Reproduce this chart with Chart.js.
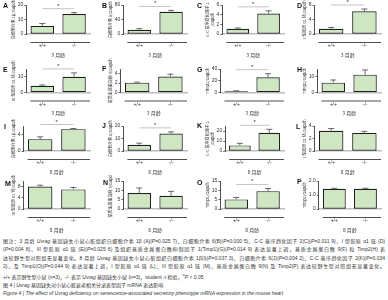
<!DOCTYPE html>
<html>
<head>
<meta charset="utf-8">
<script src="https://cdn.jsdelivr.net/npm/chart.js@4.4.1/dist/chart.umd.min.js"></script>
<style>
  body { margin: 0; background: #fff; }
  #page { position: relative; width: 388px; height: 300px; overflow: hidden; font-family: 'Liberation Sans', 'Noto Sans CJK SC', sans-serif; }
  canvas { position: absolute; }
  .letter { position: absolute; font: bold 7px 'Liberation Sans', sans-serif; color: #111; }
  #caption { position: absolute; left: 3px; top: 237px; width: 382px; font-family: 'Liberation Sans', 'Noto Sans CJK SC', sans-serif; font-size: 5px; color: #333; }
  #caption div { white-space: nowrap; height: 8.4px; line-height: 8.4px; text-align: justify; text-align-last: justify; }
  #caption div.short { text-align-last: left; }
  #caption div.gap { margin-top: 2px; }
</style>
</head>
<body>
<div id="page">
  <div id="caption">
    <div>图注：3 月龄 <i>Uvrag</i> 基因缺失小鼠心脏组织白细胞介素 1β (A)(<i>P</i>=0.025 7)、白细胞介素 6(B)(<i>P</i>=0.000 5)、C-C 基序趋化因子 2(C)(<i>P</i>=0.011 9)、I 型胶原 α1 链 (D)</div>
    <div>(<i>P</i>=0.004 8)、III 型胶原 α1 链 (E)(<i>P</i>=0.025 6) 及组织基质金属蛋白酶抑制因子 1(Timp1)(G)(<i>P</i>=0.014 9) 表达显著上调，基质金属蛋白酶 9(F) 和 Timp2(H) 表</div>
    <div>达较野生型对照组无显著变化。8 月龄 <i>Uvrag</i> 基因缺失小鼠心脏组织白细胞介素 1β(I)(<i>P</i>=0.037 3)、白细胞介素 6(J)(<i>P</i>=0.004 2)、C-C 基序趋化因子 2(K)(<i>P</i>=0.034</div>
    <div>2)、及 Timp1(O)(<i>P</i>=0.044 9) 表达显著上调，I 型胶原 α1 链 (L)、III 型胶原 α1 链 (M)、基质金属蛋白酶 9(N) 及 Timp2(P) 表达较野生型对照组无显著变化。</div>
    <div class="short">+/+ 表示野生型小鼠 (n=3)，-/- 表示 <i>Uvrag</i> 基因缺失小鼠 (n=3)，student -<i>t</i> 检验，<sup style="font-size:4px">a</sup><i>P</i> &lt; 0.05</div>
    <div class="short gap">图 4 | <i>Uvrag</i> 基因缺失对小鼠心脏衰老相关分泌表型因子 mRNA 表达影响</div>
    <div class="short"><i>Figure 4 | The effect of Uvrag deficiency on senescence-associated secretory phenotype mRNA expression in the mouse heart</i></div>
  </div>
</div>
<script>
// panels A-P, four per row
const panelLetters = ['A', 'B', 'C', 'D', 'E', 'F', 'G', 'H', 'I', 'J', 'K', 'L', 'M', 'N', 'O', 'P'];
const genotypes = ['+/+', '-/-'];
const rowAges = ['3 月龄', '3 月龄', '8 月龄', '8 月龄'];

const yTitles = [
  '白细胞介素 1β/Gapdh', '白细胞介素 6/Gapdh', ['C-C 基序趋化因子 2', '/Gapdh'], 'I 型胶原 α1 链/Gapdh',
  'III 型胶原 α1 链/Gapdh', '基质金属蛋白酶 9/Gapdh', 'Timp1/Gapdh', 'Timp2/Gapdh',
  '白细胞介素 1β/Gapdh', '白细胞介素 6/Gapdh', ['C-C 基序趋化因子 2', '/Gapdh'], 'I 型胶原 α1 链/Gapdh',
  'III 型胶原 α1 链/Gapdh', '基质金属蛋白酶 9/Gapdh', 'Timp1/Gapdh', 'Timp2/Gapdh'
];

const wildMeans = [5.6, 11.8, 1.1, 1.45, 4.3, 2.1, 2.1, 6.3, 2.85, 5.0, 5.6, 3.25, 8.0, 8.55, 5.15, 1.45];
const wildErr   = [1.6, 3.0, 0.15, 0.35, 0.5, 0.1, 0.7, 1.7, 0.55, 1.3, 2.0, 0.35, 0.5, 2.7, 1.05, 0.03];
const koMeans   = [13.8, 61.5, 4.25, 6.25, 10.1, 3.4, 25.8, 11.4, 5.25, 14.0, 18.3, 2.9, 7.0, 7.05, 9.55, 1.45];
const koErr     = [0.9, 3.5, 0.55, 0.65, 2.4, 0.5, 6.2, 3.0, 0.15, 1.3, 3.4, 0.25, 0.7, 2.4, 1.45, 0.03];

const axisMax  = [20, 80, 6, 8, 15, 5, 40, 15, 6, 20, 25, 4, 10, 15, 15, 2.0];
const axisStep = [5, 20, 2, 2, 5, 1, 10, 5, 2, 5, 5, 1, 2, 5, 5, 0.5];
const significant = [true, true, true, true, true, false, true, false, true, true, true, false, false, false, true, false];

const rowTop = [0, 58, 117, 175];
const rowPad = [5, 11, 9, 6];
const colLeft = [0, 97, 194, 291];
const letterPos = [[3, 2], [102, 2], [197, 2], [297, 2], [3, 66], [102, 65], [197, 66], [297, 66],
                   [4, 123], [102, 122], [197, 122], [296, 123], [5, 180], [103, 179], [197, 179], [297, 178]];

const barFill = '#cfe6c3';
const barLine = '#1e1e1e';

// error bars, significance bracket and the little rule under the genotype labels
const extrasPlugin = {
  id: 'extras',
  afterDatasetsDraw(chart) {
    const ctx = chart.ctx;
    const i = chart.options.plugins.extras.index;
    const x = chart.scales.x, y = chart.scales.y;
    const meta = chart.getDatasetMeta(0);
    const means = [wildMeans[i], koMeans[i]];
    const errs = [wildErr[i], koErr[i]];
    ctx.save();
    ctx.strokeStyle = '#444';
    ctx.lineWidth = 0.8;
    const tops = [];
    meta.data.forEach((bar, k) => {
      const y0 = y.getPixelForValue(means[k]);
      const y1 = y.getPixelForValue(means[k] + errs[k]);
      tops.push(y1);
      ctx.beginPath();
      ctx.moveTo(bar.x, y0);
      ctx.lineTo(bar.x, y1);
      ctx.moveTo(bar.x - 3, y1);
      ctx.lineTo(bar.x + 3, y1);
      ctx.stroke();
    });
    if (significant[i]) {
      const ly = Math.min(tops[0], tops[1]) - 4;
      ctx.strokeStyle = '#c4c4c4';
      ctx.lineWidth = 1;
      ctx.beginPath();
      ctx.moveTo(meta.data[0].x, ly);
      ctx.lineTo(meta.data[1].x, ly);
      ctx.stroke();
      ctx.fillStyle = '#333';
      ctx.font = '6px "Liberation Sans"';
      ctx.textAlign = 'center';
      ctx.fillText('*', (meta.data[0].x + meta.data[1].x) / 2, ly - 1);
    }
    ctx.strokeStyle = '#222';
    ctx.lineWidth = 0.8;
    ctx.beginPath();
    ctx.moveTo(x.left + 4, x.top + 8.5);
    ctx.lineTo(x.right, x.top + 8.5);
    ctx.stroke();
    ctx.restore();
  }
};

const page = document.getElementById('page');

panelLetters.forEach((letter, i) => {
  const row = Math.floor(i / 4), col = i % 4;
  const canvas = document.createElement('canvas');
  canvas.width = 97;
  canvas.height = 58;
  canvas.style.left = colLeft[col] + 'px';
  canvas.style.top = rowTop[row] + 'px';
  page.appendChild(canvas);

  const tag = document.createElement('div');
  tag.className = 'letter';
  tag.textContent = letter;
  tag.style.left = letterPos[i][0] + 'px';
  tag.style.top = letterPos[i][1] + 'px';
  page.appendChild(tag);

  new Chart(canvas.getContext('2d'), {
    type: 'bar',
    data: {
      labels: genotypes,
      datasets: [{
        data: [wildMeans[i], koMeans[i]],
        backgroundColor: barFill,
        borderColor: barLine,
        borderWidth: 1.2,
        borderSkipped: false,
        barPercentage: 0.8,
        categoryPercentage: 0.92
      }]
    },
    options: {
      responsive: false,
      animation: false,
      devicePixelRatio: 1,
      layout: { padding: { left: 10, right: 7, top: rowPad[row], bottom: 0 } },
      plugins: {
        legend: { display: false },
        tooltip: { enabled: false },
        extras: { index: i }
      },
      scales: {
        x: {
          grid: { display: false },
          border: { color: '#bdbdbd', width: 1.6 },
          ticks: { font: { size: 5, family: 'Liberation Sans' }, color: '#333', padding: 1 },
          title: { display: true, text: rowAges[row], font: { size: 5, family: 'Noto Sans CJK SC' }, color: '#333', padding: { top: 2, bottom: 0 } }
        },
        y: {
          min: 0,
          max: axisMax[i],
          grid: { display: true, drawOnChartArea: false, tickLength: 2, color: '#222', lineWidth: 0.7 },
          border: { color: '#222', width: 0.8 },
          ticks: {
            stepSize: axisStep[i],
            font: { size: 5, family: 'Liberation Sans' },
            color: '#333',
            padding: 1,
            callback: v => (axisStep[i] < 1 && v !== 0) ? v.toFixed(1) : v
          },
          title: { display: true, text: yTitles[i], font: { size: 4, family: 'Noto Sans CJK SC' }, color: '#333', padding: 1 }
        }
      }
    },
    plugins: [extrasPlugin]
  });
});
</script>
</body>
</html>
